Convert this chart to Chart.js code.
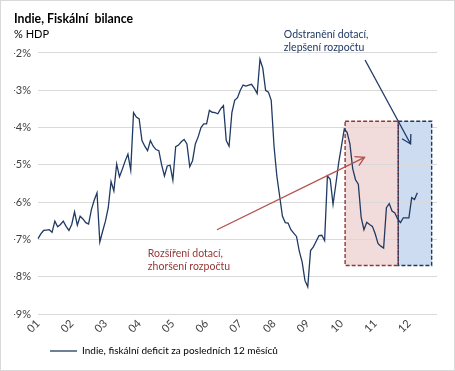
<!DOCTYPE html>
<html><head><meta charset="utf-8">
<script src="https://cdn.jsdelivr.net/npm/chart.js@4/dist/chart.umd.min.js"></script>
<style>html,body{margin:0;padding:0;background:#fff;}</style>
</head><body>
<canvas id="c" width="455" height="371"></canvas>
<script>
// ---- data ----
const yearLabels = ['01','02','03','04','05','06','07','08','09','10','11','12'];
const years = [2001,2002,2003,2004,2005,2006,2007,2008,2009,2010,2011,2012];
const months = [];
years.forEach(y => { for (let m = 1; m <= 12; m++) months.push(y + '-' + String(m).padStart(2,'0')); });
const categories = months.slice(0, 143); // Jan 2001 .. Nov 2012 (axis extent)
const deficit = [
 -6.98,-6.85,-6.76,-6.75,-6.74,-6.81,-6.51,-6.66,-6.60,-6.51,-6.65,-6.76,
 -6.60,-6.26,-6.62,-6.38,-6.45,-6.55,-6.59,-6.20,-5.95,-5.75,-7.07,-6.78,
 -6.51,-6.15,-5.45,-5.70,-4.98,-5.32,-5.12,-4.90,-4.71,-5.14,-3.60,-3.72,
 -3.77,-4.35,-4.50,-4.62,-4.35,-4.50,-4.59,-4.62,-5.00,-5.30,-5.03,-5.01,
 -5.41,-4.51,-4.47,-4.38,-4.32,-4.44,-5.05,-4.89,-4.44,-4.25,-4.00,-3.90,
 -3.90,-3.54,-3.59,-3.60,-3.63,-3.50,-3.41,-4.35,-4.50,-3.60,-3.27,-3.20,
 -3.00,-2.86,-2.89,-2.86,-2.84,-2.95,-3.09,-2.17,-2.41,-3.00,-3.05,-3.27,
 -4.50,-5.30,-5.84,-6.38,-6.55,-6.56,-6.74,-6.83,-6.92,-7.32,-7.60,-8.10,
 -8.27,-7.30,-7.20,-7.05,-6.90,-6.89,-7.03,-5.30,-5.39,-6.06,-5.52,-4.95,
 -4.50,-4.04,-4.13,-4.44,-5.10,-5.40,-5.52,-6.40,-6.74,-6.54,-6.60,-6.65,
 -6.85,-7.11,-7.18,-7.23,-6.15,-6.04,-6.24,-6.29,-6.45,-6.55,-6.42,-6.42,
 -6.42,-5.88,-5.93,-5.75
];
const yMin = -9, yMax = -2;
const seriesName = 'Indie, fiskální deficit za posledních 12 měsíců';
const titleText = 'Indie, Fiskální  bilance';
const unitText = '% HDP';

// annotation anchors (in data units: month index, % HDP)
const zones = [
  {x0:109.3, x1:128.2, yTop:-3.83, yBot:-7.70, fill:'#f2dcdb', stroke:'#953735'},
  {x0:128.2, x1:140.1, yTop:-3.83, yBot:-7.70, fill:'#cddcf0', stroke:'#1f3864'}
];
const arrows = [
  {from:[63.7,-6.74], to:[116.2,-4.80], color:'#b4504d'},
  {from:[116.4,-2.19], to:[132.6,-4.44], color:'#1f3864'}
];
const notes = [
  {x:87.5, y:-1.51, lines:['Odstranění dotací,','zlepšení rozpočtu'], color:'#1f3864'},
  {x:39.1, y:-7.38, lines:['Rozšíření dotací,','zhoršení rozpočtu'], color:'#953735'}
];

const FONT = 'Lato';

const annotPlugin = {
  id:'annot',
  beforeDraw(chart){
    const {ctx, scales:{x,y}} = chart;
    ctx.save();
    zones.forEach(z => {
      const l = x.getPixelForValue(z.x0), r = x.getPixelForValue(z.x1);
      const t = y.getPixelForValue(z.yTop), b = y.getPixelForValue(z.yBot);
      ctx.fillStyle = z.fill; ctx.fillRect(l, t, r-l, b-t);
    });
    ctx.restore();
  },
  beforeDatasetsDraw(chart){
    const {ctx, scales:{x,y}} = chart;
    ctx.save();
    ctx.lineWidth = 1.4; ctx.setLineDash([4,2]);
    zones.forEach(z => {
      const l = x.getPixelForValue(z.x0), r = x.getPixelForValue(z.x1);
      const t = y.getPixelForValue(z.yTop), b = y.getPixelForValue(z.yBot);
      ctx.strokeStyle = z.stroke; ctx.strokeRect(l, t, r-l, b-t);
    });
    ctx.restore();
  },
  afterDatasetsDraw(chart){
    const {ctx, scales:{x,y}} = chart;
    ctx.save();
    arrows.forEach(a => {
      const x1 = x.getPixelForValue(a.from[0]), y1 = y.getPixelForValue(a.from[1]);
      const x2 = x.getPixelForValue(a.to[0]), y2 = y.getPixelForValue(a.to[1]);
      ctx.strokeStyle = a.color; ctx.lineWidth = 1.3;
      ctx.beginPath(); ctx.moveTo(x1,y1); ctx.lineTo(x2,y2); ctx.stroke();
      const ang = Math.atan2(y2-y1, x2-x1), L = 10, sp = Math.PI/6;
      ctx.beginPath();
      ctx.moveTo(x2 - L*Math.cos(ang-sp), y2 - L*Math.sin(ang-sp));
      ctx.lineTo(x2, y2);
      ctx.lineTo(x2 - L*Math.cos(ang+sp), y2 - L*Math.sin(ang+sp));
      ctx.stroke();
    });
    ctx.font = '10.5px ' + FONT; ctx.textBaseline = 'middle'; ctx.textAlign = 'left';
    notes.forEach(n => {
      const px = x.getPixelForValue(n.x), py = y.getPixelForValue(n.y);
      ctx.fillStyle = n.color;
      n.lines.forEach((s, i) => ctx.fillText(s, px, py + i*13));
    });
    ctx.strokeStyle = '#d9d9d9'; ctx.lineWidth = 1; ctx.setLineDash([]);
    ctx.strokeRect(0.5, 0.5, chart.width-1, chart.height-1);
    ctx.restore();
  }
};

new Chart(document.getElementById('c'), {
  type:'line',
  data:{
    labels: categories,
    datasets:[{
      label: seriesName,
      data: deficit,
      borderColor:'#203a64',
      backgroundColor:'#203a64',
      borderWidth:1.3,
      pointRadius:0,
      tension:0,
      fill:false
    }]
  },
  options:{
    responsive:false,
    animation:false,
    events:[],
    layout:{padding:{left:14, top:8, right:18, bottom:5}},
    plugins:{
      title:{display:true, text:titleText, align:'start', color:'#000',
        font:{family:FONT, size:12.3, weight:'bold'}, padding:{top:4, bottom:0}},
      subtitle:{display:true, text:unitText, align:'start', color:'#000',
        font:{family:FONT, size:11}, padding:{top:1, bottom:12}},
      legend:{display:true, position:'bottom', align:'start', fullSize:false,
        labels:{usePointStyle:true, pointStyle:'line', pointStyleWidth:27, boxHeight:10,
          color:'#000', font:{family:FONT, size:10}, padding:12}},
      tooltip:{enabled:false}
    },
    scales:{
      x:{
        type:'category',
        grid:{display:false, drawTicks:false},
        border:{display:false},
        afterBuildTicks(scale){ scale.ticks = scale.ticks.filter(t => t.value % 12 === 0); },
        afterFit(scale){ scale.height = 20; },
        ticks:{autoSkip:false, minRotation:45, maxRotation:45, padding:3, color:'#404040',
          font:{family:FONT, size:11},
          callback:(v) => yearLabels[v/12]}
      },
      y:{
        min:yMin, max:yMax,
        afterFit(scale){ scale.width = 24; },
        grid:{color:'#d9d9d9', drawTicks:false, lineWidth:1},
        border:{display:false},
        ticks:{stepSize:1, padding:7, color:'#404040', font:{family:FONT, size:11},
          callback:(v) => v + '%'}
      }
    }
  },
  plugins:[annotPlugin]
});
</script>
</body></html>
